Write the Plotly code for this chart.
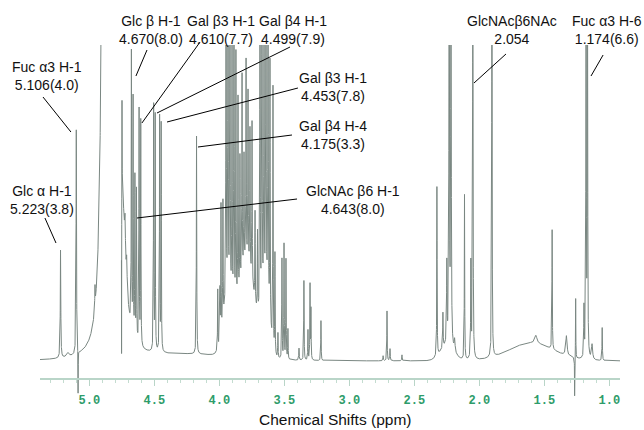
import numpy as np
import plotly.graph_objects as go

# ---------------- data ----------------
# narrow resonances: position (ppm), intensity (a.u.), half width (ppm)
peak_ppm = [5.221, 5.164, 5.100, 5.086, 4.956, 4.890,
            4.7515, 4.7485, 4.745, 4.725, 4.712,
            4.676, 4.663, 4.649, 4.637, 4.617, 4.604,
            4.505, 4.493, 4.459, 4.447, 4.175,
            4.012, 3.995, 3.987, 3.972, 3.948, 3.933, 3.918, 3.902, 3.887, 3.872,
            3.856, 3.841, 3.825, 3.810, 3.794, 3.779, 3.764, 3.748, 3.725, 3.706,
            3.687, 3.672, 3.656, 3.641, 3.625, 3.610, 3.587, 3.572, 3.549,
            3.518, 3.502, 3.487, 3.472, 3.387, 3.349, 3.318, 3.302, 3.295, 3.218,
            2.740, 2.710, 2.687, 2.595,
            2.326, 2.280, 2.250, 2.232, 2.218, 2.190, 2.114, 2.065, 2.050, 1.903,
            1.565, 1.440, 1.330, 1.267, 1.259, 1.195, 1.179, 1.168, 1.133, 1.055]
peak_int = [108, 4, 225, -45, 22, 600,
            -170, 110, 150, 30, 25,
            275, 235, 160, 150, 235, 225,
            245, 235, 235, 228, 218,
            60, 50, 130, 120, 420, 420, 420, 250, 420, 250,
            200, 130, 200, 110, 200, 170, 140, 160, 90, 80,
            420, 420, 280, 420, 420, 260, 260, 100, 25,
            100, 115, 100, 30, 12, 80, 30, 75, 50, 40,
            5, 50, 12, 6,
            170, 35, 80, 450, 450, 12, 165, 95, 420, 420,
            8, 120, 20, -40, 60, 50, 420, 420, 15, 33]
peak_hw = [0.0022, 0.01, 0.002, 0.001, 0.002, 0.02,
           0.0008, 0.0013, 0.03, 0.003, 0.003,
           0.0016, 0.0016, 0.0016, 0.0016, 0.0016, 0.0016,
           0.0016, 0.0016, 0.0016, 0.0016, 0.0017,
           0.0016, 0.0016, 0.0016, 0.0016, 0.0016, 0.0016, 0.0016, 0.0016, 0.0016, 0.0016,
           0.0016, 0.0016, 0.0016, 0.0016, 0.0016, 0.0016, 0.0016, 0.0016, 0.0016, 0.0016,
           0.0016, 0.0016, 0.0016, 0.0016, 0.0016, 0.0016, 0.0016, 0.0016, 0.0016,
           0.0016, 0.0016, 0.0016, 0.0016, 0.002, 0.0016, 0.0016, 0.0016, 0.0016, 0.0016,
           0.002, 0.0016, 0.002, 0.002,
           0.0016, 0.002, 0.002, 0.0022, 0.0022, 0.004, 0.0016, 0.002, 0.002, 0.0018,
           0.01, 0.0016, 0.006, 0.001, 0.0013, 0.002, 0.0018, 0.0018, 0.005, 0.0018]

# broad components: centre (ppm), intensity, sigma (ppm)
broad_ppm = [4.25, 3.935, 3.79, 3.645, 2.25, 1.60]
broad_int = [6, 55, 95, 65, 14, 18]
broad_sig = [0.35, 0.035, 0.06, 0.03, 0.05, 0.17]
baseline_level = 4
water_gap = (4.7525, 4.900)   # suppressed solvent region, off scale

tick_vals = [5.0, 4.5, 4.0, 3.5, 3.0, 2.5, 2.0, 1.5, 1.0]

labels = ["Fuc α3 H-1<br>5.106(4.0)", "Glc α H-1<br>5.223(3.8)",
          "Glc β H-1<br>4.670(8.0)", "Gal β3 H-1<br>4.610(7.7)",
          "Gal β4 H-1<br>4.499(7.9)", "Gal β3 H-1<br>4.453(7.8)",
          "Gal β4 H-4<br>4.175(3.3)", "GlcNAc β6 H-1<br>4.643(8.0)",
          "GlcNAcβ6NAc<br>2.054", "Fuc α3 H-6<br>1.174(6.6)"]

# ---------------- layout geometry ----------------
X0, X1 = 5.379, 0.918
Y0, Y1 = -35, 320
label_pos = [(5.325, 289), (5.364, 165), (4.525, 335), (3.987, 335), (3.433, 335),
             (3.125, 278), (3.125, 230), (2.972, 165), (1.748, 335), (1.017, 335)]
leader = [((5.356, 268), (5.141, 233)), ((5.341, 147), (5.256, 122)),
          ((4.556, 315), (4.641, 289)), ((4.148, 323), (4.595, 242)),
          ((3.456, 318), (4.479, 252)), ((3.395, 277), (4.402, 243)),
          ((3.441, 230), (4.164, 218)), ((3.402, 166), (4.633, 147)),
          ((1.795, 311), (2.041, 282)), ((1.048, 310), (1.141, 289))]


def xp(v):
    return (X0 - v) / (X0 - X1)


def yp(v):
    return (v - Y0) / (Y1 - Y0)


# ---------------- spectrum ----------------
ppm = np.arange(0.905, 5.39, 0.0003)
spec = np.full_like(ppm, float(baseline_level))
for c, h, w in zip(peak_ppm, peak_int, peak_hw):
    spec += h * w * w / (w * w + (ppm - c) ** 2)
for c, h, s in zip(broad_ppm, broad_int, broad_sig):
    spec += h * np.exp(-((ppm - c) ** 2) / (2 * s * s))
spec = np.where((ppm > water_gap[0]) & (ppm < water_gap[1]), np.nan, spec)

fig = go.Figure()
fig.add_trace(go.Scatter(x=ppm, y=spec, mode="lines",
                         line=dict(color="#7a8782", width=1),
                         hoverinfo="skip", showlegend=False))

shapes = []
for (a, b) in leader:
    shapes.append(dict(type="line", xref="paper", yref="paper",
                       x0=xp(a[0]), y0=yp(a[1]), x1=xp(b[0]), y1=yp(b[1]),
                       line=dict(color="black", width=1)))

annos = []
for txt, (lx, ly) in zip(labels, label_pos):
    annos.append(dict(text=txt, x=xp(lx), y=yp(ly), xref="paper", yref="paper",
                      showarrow=False, xanchor="center", yanchor="middle",
                      font=dict(family="Liberation Sans, Arial, sans-serif", size=14, color="#111111")))
annos.append(dict(text="Chemical Shifts (ppm)", x=0.5086, y=-0.056, xref="paper", yref="paper",
                  showarrow=False, xanchor="center", yanchor="middle",
                  font=dict(family="Liberation Sans, Arial, sans-serif", size=15.5, color="#111111")))

fig.update_layout(
    width=644, height=430,
    margin=dict(l=40, r=24, t=45, b=30),
    paper_bgcolor="white", plot_bgcolor="white",
    shapes=shapes, annotations=annos,
    xaxis=dict(range=[X0, X1], anchor="free", position=yp(-14.3),
               showgrid=False, zeroline=False, showline=True,
               linecolor="#b9d5c8", linewidth=1.5,
               ticks="outside", ticklen=6, tickwidth=1, tickcolor="#b9d5c8",
               ticklabelstandoff=4,
               tickvals=tick_vals, ticktext=[f"{v:.1f}" for v in tick_vals],
               tickfont=dict(family="Liberation Mono, DejaVu Sans Mono, monospace",
                             size=12, color="#2e9c6a", weight="bold"),
               minor=dict(dtick=0.1, tick0=0, ticks="outside", ticklen=3,
                          tickcolor="#c4dcd0", showgrid=False)),
    yaxis=dict(range=[Y0, Y1], visible=False, fixedrange=True),
)

fig.write_html("out.html")
